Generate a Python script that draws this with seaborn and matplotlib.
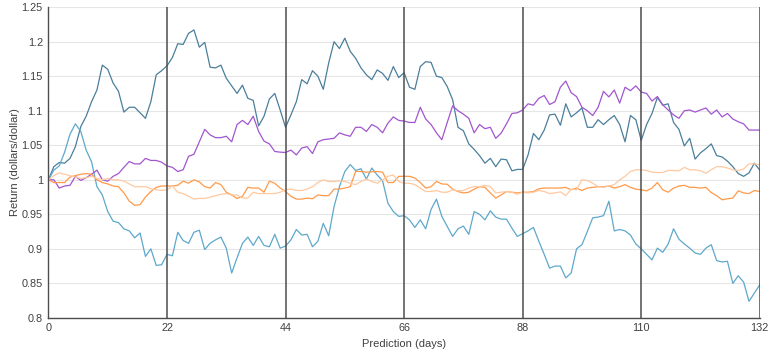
import numpy as np
import pandas as pd
import matplotlib
matplotlib.use('Agg')
import matplotlib.pyplot as plt
import seaborn as sns

# Daily returns, day 0..132
days = list(range(133))

steel = [1.000, 1.019, 1.025, 1.024, 1.031, 1.048, 1.077, 1.092, 1.113, 1.130, 1.166, 1.160, 1.140, 1.128, 1.098, 1.105, 1.105, 1.097, 1.089, 1.113, 1.152, 1.158, 1.165,
         1.177, 1.197, 1.196, 1.212, 1.217, 1.192, 1.199, 1.163, 1.162, 1.166, 1.147, 1.136, 1.125, 1.137, 1.118, 1.115, 1.078, 1.092, 1.117, 1.125, 1.101, 1.076,
         1.094, 1.113, 1.145, 1.139, 1.158, 1.150, 1.131, 1.169, 1.200, 1.190, 1.205, 1.186, 1.176, 1.162, 1.152, 1.145, 1.159, 1.154, 1.144, 1.164, 1.148, 1.155,
         1.134, 1.131, 1.164, 1.171, 1.170, 1.150, 1.148, 1.135, 1.116, 1.076, 1.071, 1.052, 1.044, 1.035, 1.024, 1.031, 1.019, 1.030, 1.029, 1.013, 1.015, 1.015,
         1.036, 1.067, 1.058, 1.072, 1.094, 1.095, 1.079, 1.110, 1.091, 1.097, 1.104, 1.076, 1.076, 1.087, 1.080, 1.087, 1.093, 1.080, 1.055, 1.093, 1.087, 1.057,
         1.080, 1.096, 1.119, 1.108, 1.110, 1.083, 1.073, 1.049, 1.060, 1.030, 1.039, 1.045, 1.052, 1.035, 1.033, 1.027, 1.019, 1.009, 1.005, 1.010, 1.024, 1.014]

sky = [1.000, 1.014, 1.020, 1.040, 1.066, 1.081, 1.070, 1.043, 1.026, 0.990, 0.978, 0.954, 0.940, 0.938, 0.929, 0.926, 0.916, 0.923, 0.889, 0.900, 0.876, 0.877, 0.892,
       0.890, 0.924, 0.912, 0.908, 0.924, 0.927, 0.899, 0.908, 0.913, 0.917, 0.901, 0.865, 0.887, 0.908, 0.917, 0.905, 0.918, 0.905, 0.903, 0.921, 0.901, 0.904,
       0.913, 0.928, 0.920, 0.921, 0.903, 0.911, 0.937, 0.919, 0.961, 0.990, 1.012, 1.022, 1.0135, 1.016, 1.001, 1.017, 1.007, 0.9985, 0.966, 0.954, 0.947, 0.948,
       0.942, 0.931, 0.942, 0.929, 0.957, 0.972, 0.947, 0.9325, 0.918, 0.929, 0.933, 0.921, 0.954, 0.950, 0.942, 0.955, 0.946, 0.943, 0.943, 0.930, 0.918, 0.922,
       0.926, 0.931, 0.911, 0.892, 0.872, 0.875, 0.875, 0.858, 0.865, 0.900, 0.906, 0.925, 0.945, 0.946, 0.948, 0.969, 0.926, 0.928, 0.926, 0.920, 0.907, 0.900,
       0.892, 0.884, 0.901, 0.895, 0.907, 0.929, 0.914, 0.907, 0.901, 0.894, 0.892, 0.901, 0.906, 0.883, 0.881, 0.882, 0.850, 0.861, 0.852, 0.824, 0.836, 0.848]

violet = [1.000, 1.000, 0.988, 0.991, 0.992, 1.005, 0.999, 1.003, 1.008, 1.014, 1.000, 0.998, 1.005, 1.009, 1.018, 1.0265, 1.023, 1.023, 1.031, 1.028, 1.028, 1.0255, 1.020,
          1.018, 1.012, 1.0145, 1.034, 1.037, 1.055, 1.073, 1.065, 1.061, 1.061, 1.063, 1.055, 1.080, 1.086, 1.080, 1.092, 1.070, 1.056, 1.052, 1.041, 1.040, 1.0395,
          1.043, 1.036, 1.046, 1.048, 1.038, 1.055, 1.058, 1.059, 1.060, 1.068, 1.065, 1.063, 1.076, 1.076, 1.070, 1.080, 1.076, 1.068, 1.082, 1.091, 1.086, 1.085,
          1.083, 1.083, 1.105, 1.088, 1.080, 1.068, 1.058, 1.083, 1.107, 1.100, 1.095, 1.089, 1.068, 1.080, 1.074, 1.076, 1.060, 1.0675, 1.081, 1.096, 1.097, 1.101,
          1.110, 1.108, 1.118, 1.122, 1.109, 1.113, 1.134, 1.143, 1.126, 1.1205, 1.105, 1.100, 1.093, 1.105, 1.128, 1.120, 1.130, 1.111, 1.134, 1.129, 1.136, 1.127,
          1.125, 1.114, 1.1205, 1.1085, 1.101, 1.094, 1.089, 1.100, 1.101, 1.098, 1.101, 1.104, 1.095, 1.101, 1.091, 1.096, 1.088, 1.084, 1.081, 1.072, 1.072, 1.072]

orange = [1.000, 0.996, 0.996, 0.996, 1.004, 1.006, 1.008, 1.009, 1.008, 1.000, 0.996, 0.994, 0.991, 0.990, 0.981, 0.969, 0.963, 0.964, 0.975, 0.983, 0.989, 0.991, 0.991,
          0.991, 0.992, 0.998, 0.995, 1.000, 0.997, 0.990, 0.988, 0.996, 0.993, 0.982, 0.978, 0.973, 0.976, 0.989, 0.988, 0.988, 0.982, 0.998, 0.995, 0.988, 0.983,
          0.976, 0.972, 0.972, 0.9735, 0.9725, 0.978, 0.977, 0.977, 0.9865, 0.9865, 0.988, 0.990, 1.012, 1.012, 1.011, 1.0115, 1.012, 1.011, 0.996, 0.996, 1.005, 1.005,
          1.005, 1.0025, 0.996, 0.988, 0.990, 0.9975, 0.994, 0.9935, 0.9865, 0.983, 0.981, 0.982, 0.9865, 0.990, 0.989, 0.981, 0.9735, 0.978, 0.983, 0.982, 0.981, 0.982,
          0.982, 0.983, 0.987, 0.988, 0.988, 0.988, 0.988, 0.989, 0.9855, 0.988, 0.9845, 0.988, 0.989, 0.990, 0.990, 0.991, 0.988, 0.990, 0.993, 0.989, 0.9865, 0.9855,
          0.984, 0.988, 0.996, 0.9855, 0.982, 0.988, 0.991, 0.992, 0.989, 0.989, 0.988, 0.989, 0.9815, 0.977, 0.971, 0.9725, 0.9735, 0.984, 0.981, 0.980, 0.9845, 0.983]

peach = [1.000, 1.006, 1.010, 1.008, 1.006, 1.004, 1.002, 1.003, 1.005, 1.002, 1.000, 1.002, 1.000, 1.000, 0.998, 0.994, 0.990, 0.990, 0.990, 0.987, 0.9855, 0.9845, 0.9855,
         0.991, 0.982, 0.980, 0.976, 0.972, 0.973, 0.973, 0.975, 0.977, 0.979, 0.980, 0.978, 0.978, 0.9735, 0.9735, 0.982, 0.980, 0.980, 0.980, 0.980, 0.982, 0.9855,
         0.9865, 0.9845, 0.9845, 0.9865, 0.990, 0.996, 1.000, 0.9975, 0.9975, 0.9985, 0.9975, 0.995, 0.993, 0.9975, 1.001, 0.9975, 0.995, 1.000, 1.005, 1.007, 0.9975, 0.995,
         0.995, 0.993, 0.988, 0.983, 0.983, 0.9845, 0.982, 0.982, 0.9855, 0.984, 0.9845, 0.988, 0.990, 0.990, 0.992, 0.990, 0.981, 0.982, 0.983, 0.982, 0.979, 0.982,
         0.981, 0.982, 0.9845, 0.983, 0.980, 0.981, 0.9825, 0.977, 0.9865, 0.9855, 1.000, 0.999, 0.995, 0.990, 0.989, 0.991, 0.993, 1.000, 1.005, 1.012, 1.0145, 1.0145,
         1.0135, 1.011, 1.0105, 1.0105, 1.0135, 1.0135, 1.013, 1.018, 1.0145, 1.0145, 1.013, 1.0095, 1.0145, 1.019, 1.019, 1.017, 1.0145, 1.0135, 1.0155, 1.023, 1.023, 1.0215]

series_names = ['steel', 'sky', 'violet', 'orange', 'peach']
series_colors = ['#4a7f9b', '#5ea8cb', '#a255cf', '#ff9a4a', '#ffc9a0']
period_marks = [22, 44, 66, 88, 110, 132]
y_ticks = [0.8, 0.85, 0.9, 0.95, 1.0, 1.05, 1.1, 1.15, 1.2, 1.25]

df = pd.DataFrame({'day': days, 'steel': steel, 'sky': sky, 'violet': violet,
                   'orange': orange, 'peach': peach})
long_df = df.melt(id_vars='day', var_name='series', value_name='ret')

sns.set_style('white')
plt.rcParams['font.family'] = ['Liberation Sans', 'DejaVu Sans']

fig = plt.figure(figsize=(7.69, 3.56), dpi=100)
ax = fig.add_axes([0.063, 0.107, 0.925, 0.873])

for yv in y_ticks:
    ax.axhline(yv, color='#e6e6e6', lw=0.8, zorder=0)

sns.lineplot(data=long_df, x='day', y='ret', hue='series', hue_order=series_names,
             palette=dict(zip(series_names, series_colors)), linewidth=0.9,
             legend=False, ax=ax)

for xm in period_marks:
    ax.axvline(xm, color='#4d4d4d', lw=1.1, zorder=3)

ax.set_xlim(0, 132)
ax.set_ylim(0.8, 1.25)
ax.set_xticks([0] + period_marks)
ax.set_yticks(y_ticks)
ax.set_yticklabels([f'{v:g}' for v in y_ticks])
ax.tick_params(length=0, labelsize=7.8, labelcolor='#404040', pad=4)
ax.set_xlabel('Prediction (days)', fontsize=8, color='#404040', labelpad=4)
ax.set_ylabel('Return (dollars/dollar)', fontsize=8, color='#404040')
ax.yaxis.set_label_coords(-0.040, 0.5)

for side in ['top', 'right']:
    ax.spines[side].set_visible(False)
for side in ['left', 'bottom']:
    ax.spines[side].set_color('#4d4d4d')
    ax.spines[side].set_linewidth(1.0)

fig.savefig('out.png', dpi=100)
